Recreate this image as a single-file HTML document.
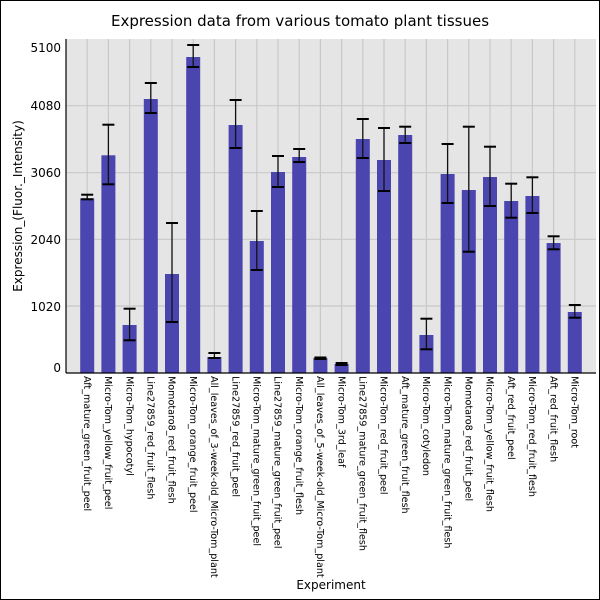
<!DOCTYPE html>
<html><head><meta charset="utf-8"><style>
html,body{margin:0;padding:0;background:#fff;}
svg{display:block;font-family:"DejaVu Sans","Liberation Sans",sans-serif;}
</style></head><body>
<svg width="600" height="600" xmlns="http://www.w3.org/2000/svg">
<rect x="0.5" y="0.5" width="599" height="599" fill="#fff" stroke="#000"/>
<text x="300" y="26" font-size="15" text-anchor="middle" fill="#000">Expression data from various tomato plant tissues</text>
<rect x="66" y="39" width="530" height="334" fill="#e5e5e5"/>
<g stroke="#c8c8c8" stroke-width="1.2" id="grid"></g>
<g id="bars"></g>
<line x1="66" y1="39" x2="66" y2="373" stroke="#000" stroke-width="1.2"/>
<line x1="66" y1="373" x2="596" y2="373" stroke="#000" stroke-width="1.2"/>
<g font-size="12" text-anchor="end" fill="#000">
<text x="61" y="52">5100</text>
<text x="61" y="110">4080</text>
<text x="61" y="177">3060</text>
<text x="61" y="244">2040</text>
<text x="61" y="311">1020</text>
<text x="61" y="372">0</text>
</g>
<text transform="translate(22,206) rotate(-90)" font-size="12" text-anchor="middle">Expression_(Fluor._Intensity)</text>
<text x="331" y="589" font-size="12" text-anchor="middle">Experiment</text>
<g id="labels" font-size="9.6"></g>
</svg>
<script>
var names=["Aft_mature_green_fruit_peel","Micro-Tom_yellow_fruit_peel","Micro-Tom_hypocotyl","Line27859_red_fruit_flesh","Momotaro8_red_fruit_flesh","Micro-Tom_orange_fruit_peel","All_leaves_of_3-week-old_Micro-Tom_plant","Line27859_red_fruit_peel","Micro-Tom_mature_green_fruit_peel","Line27859_mature_green_fruit_peel","Micro-Tom_orange_fruit_flesh","All_leaves_of_5-week-old_Micro-Tom_plant","Micro-Tom_3rd_leaf","Line27859_mature_green_fruit_flesh","Micro-Tom_red_fruit_peel","Aft_mature_green_fruit_flesh","Micro-Tom_cotyledon","Micro-Tom_mature_green_fruit_flesh","Momotaro8_red_fruit_peel","Micro-Tom_yellow_fruit_flesh","Aft_red_fruit_peel","Micro-Tom_red_fruit_flesh","Aft_red_fruit_flesh","Micro-Tom_root"];
var d=[[198.3,194.7,199.3],[155.3,124.7,184.3],[325,308.7,340.3],[99,83,113],[274,223,322],[57,45,67],[357,353,358],[125,100,148],[241,211,270],[172,156,187],[157,149,162],[358,357.5,359],[364,363,365],[139,119,158],[160,128,191],[135,126.7,143],[335,318.7,349.3],[174,144,203],[190,126.7,251.7],[177,146.7,206],[201,183.7,217.7],[196,177.3,213],[243,236.3,249.3],[312,305,317.7]];
var NS="http://www.w3.org/2000/svg";
function el(p,t,a,txt){var e=document.createElementNS(NS,t);for(var k in a)e.setAttribute(k,a[k]);if(txt)e.textContent=txt;document.getElementById(p).appendChild(e);}
[105.7,172.7,239.3,306].forEach(function(y){el("grid","line",{x1:66,x2:596,y1:y,y2:y});});
for(var i=0;i<24;i++){var x=66+21.2*(i+1);el("grid","line",{x1:x,x2:x,y1:39,y2:373});}
for(var i=0;i<24;i++){var x=66+21.2*(i+1),v=d[i];
el("bars","rect",{x:x-7,y:v[0],width:14,height:373-v[0],fill:"#4b45b0"});
el("bars","line",{x1:x,x2:x,y1:v[1],y2:v[2],stroke:"#111","stroke-width":1.3});
el("bars","line",{x1:x-6,x2:x+6,y1:v[1],y2:v[1],stroke:"#000","stroke-width":2});
el("bars","line",{x1:x-6,x2:x+6,y1:v[2],y2:v[2],stroke:"#000","stroke-width":2});
el("labels","text",{transform:"translate("+(x-3.3)+",376) rotate(90)"},names[i]);}
</script>
</body></html>
